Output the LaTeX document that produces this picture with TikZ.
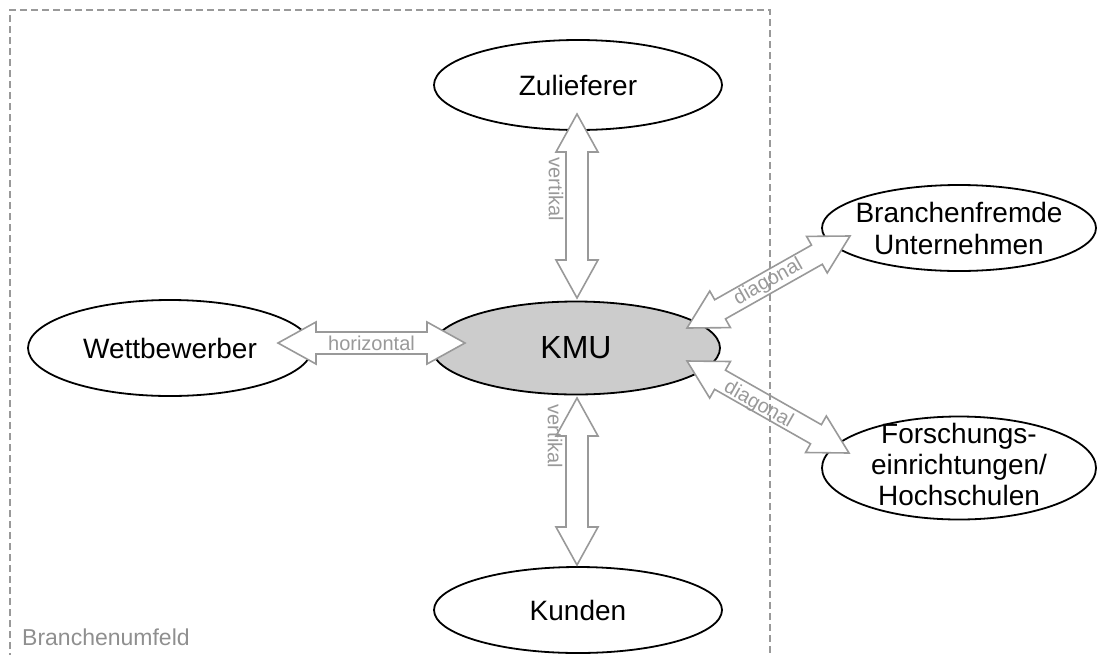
\documentclass[tikz,border=0pt]{standalone}
\usepackage{fontspec}
\setmainfont{Liberation Sans}
\usetikzlibrary{calc, positioning, shapes.geometric}

\definecolor{linegray}{HTML}{999999}
\definecolor{kmugray}{HTML}{CCCCCC}
\definecolor{envgray}{HTML}{8F8F8F}

% sizes of the hollow double arrows
\newcommand{\headlen}{38pt}
\newcommand{\headhw}{21pt}
\newcommand{\shafthw}{11pt}
\newcommand{\blockarrow}[2]{%
  \draw[blockarr] (#1)
    -- ($(#1)!\headlen!(#2)!\headhw!90:(#2)$)
    -- ($(#1)!\headlen!(#2)!\shafthw!90:(#2)$)
    -- ($(#2)!\headlen!(#1)!\shafthw!-90:(#1)$)
    -- ($(#2)!\headlen!(#1)!\headhw!-90:(#1)$)
    -- (#2)
    -- ($(#2)!\headlen!(#1)!\headhw!90:(#1)$)
    -- ($(#2)!\headlen!(#1)!\shafthw!90:(#1)$)
    -- ($(#1)!\headlen!(#2)!\shafthw!-90:(#2)$)
    -- ($(#1)!\headlen!(#2)!\headhw!-90:(#2)$)
    -- cycle;}

\begin{document}
\begin{tikzpicture}[
            x=1pt, y=-1pt,
            partner/.style={ellipse, draw, line width=1.8pt, minimum width=288pt,
                            minimum height=90pt, inner sep=0pt, align=center,
                            font=\fontsize{28}{33}\selectfont},
            ptext/.style={align=center, font=\fontsize{28}{32}\selectfont},
            blockarr/.style={draw=linegray, fill=white, line width=1.6pt},
            lbl/.style={text=linegray, inner sep=0pt, font=\fontsize{20}{24}\selectfont},
            envbox/.style={draw=linegray, line width=1.8pt, dash pattern=on 7pt off 4pt},
            envlbl/.style={text=envgray, inner sep=0pt, font=\fontsize{23}{28}\selectfont}
        ]
        \useasboundingbox (0,0) rectangle (1100,654);

        % partners around the KMU
        \node[partner] (zul) at (578,85) {Zulieferer};
        \node[partner, fill=kmugray, minimum height=93pt,
              font=\fontsize{32}{36}\selectfont] (kmu) at (576,348) {KMU};
        \node[partner, minimum width=284pt, minimum height=96pt] (wet) at (170,348) {Wettbewerber};
        \node[partner, minimum height=86pt] (kun) at (578,610) {Kunden};
        \node[partner, minimum width=274pt, minimum height=86pt,
              label={[ptext]center:Branchenfremde\\Unternehmen}] (bra) at (959,228) {};
        \node[partner, minimum width=274pt, minimum height=103pt,
              label={[ptext, yshift=4pt, font=\fontsize{28}{31}\selectfont]center:Forschungs-\\einrichtungen/\\Hochschulen}] (fhs) at (959,468) {};

        % arrow ends
        \coordinate (zulEnd) at (577,114);
        \coordinate (kmuTop) at (577,298);
        \coordinate (kmuBot) at (577,398);
        \coordinate (kunEnd) at (577,565);
        \coordinate (wetEnd) at (278,343);
        \coordinate (kmuLeft) at (465,343);
        \coordinate (kmuNE) at (687,328);
        \coordinate (braEnd) at (850,236);
        \coordinate (kmuSE) at (687,361);
        \coordinate (fhsEnd) at (849,453);

        % vertical
        \blockarrow{zulEnd}{kmuTop}
        \blockarrow{kmuBot}{kunEnd}
        \node[lbl, rotate=-90] (vtop) at ($(zulEnd)!0.41!(kmuTop)+(-21,0)$) {vertikal};
        \node[lbl, rotate=-90] (vbot) at ($(kmuBot)!0.23!(kunEnd)+(-22,0)$) {vertikal};

        % horizontal
        \blockarrow{wetEnd}{kmuLeft}
        \path (wetEnd) -- (kmuLeft) node[lbl, midway] (hor) {horizontal};

        % diagonal
        \blockarrow{kmuNE}{braEnd}
        \blockarrow{kmuSE}{fhsEnd}
        \path (kmuNE) -- (braEnd) node[lbl, sloped, midway] (dup) {diagonal};
        \path (kmuSE) -- (fhsEnd) node[lbl, sloped, pos=0.45, yshift=-3pt] (ddn) {diagonal};

        % Branchenumfeld
        \draw[envbox] (10,660) -- (10,10) -- (770,10) -- (770,660);
        \node[envlbl, anchor=base west] (env) at (22,645) {Branchenumfeld};
\end{tikzpicture}
\end{document}
